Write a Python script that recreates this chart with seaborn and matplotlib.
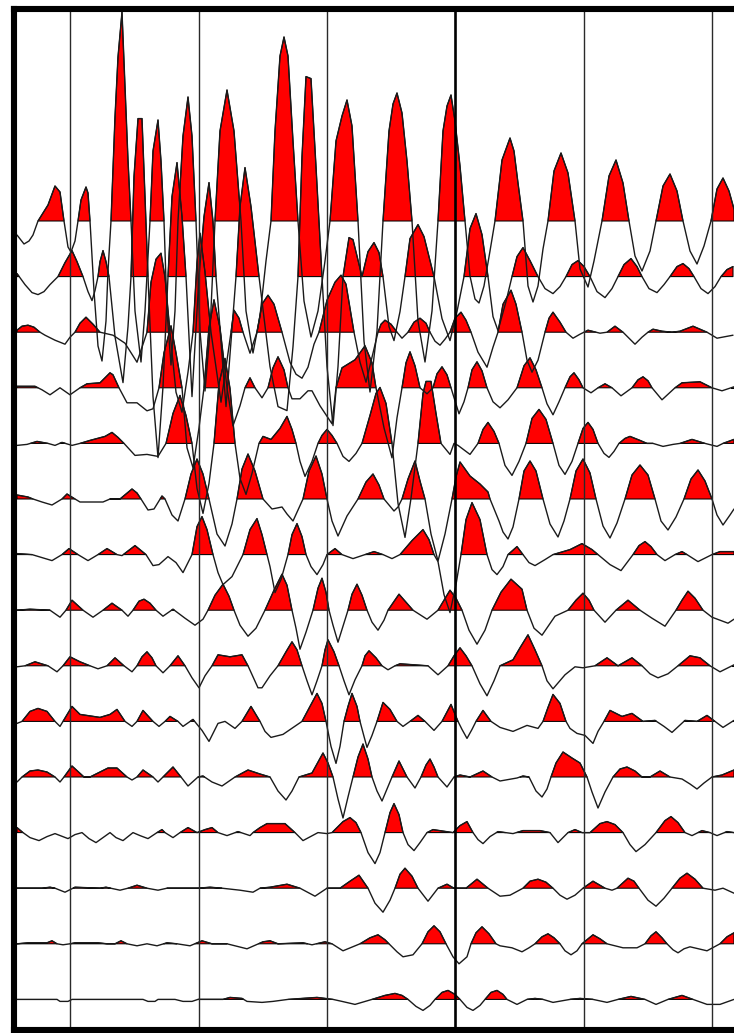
import matplotlib
matplotlib.use("Agg")
import matplotlib.pyplot as plt
import numpy as np
import pandas as pd
import seaborn as sns

# Each trace: (time sample, amplitude) pairs
t01 = [(17,-14),(24,-23),(29,-20),(33,-14),(38,0),(48,16),(55,35),(60,29),(64,0),(68,-26),(71,-31),(75,-20),(78,0),(81,21),(86,34),(88,28),(90,0),(94,-70),(98,-125),(102,-140),(106,-100),(108,-50),(111,0),(115,104),(118,164),(122,209),(125,134),(128,61),(131,0),(135,-90),(141,-141),(145,-90),(150,0),(153,70),(158,101),(161,60),(164,0),(167,-90),(171,-144),(175,-90),(178,0),(183,85),(188,124),(192,85),(196,0),(200,-110),(205,-170),(210,-110),(215,0),(220,90),(227,131),(234,90),(241,0),(246,-90),(253,-132),(260,-95),(266,-40),(271,0),(275,90),(280,165),(284,184),(288,165),(293,80),(298,0),(304,-80),(311,-116),(318,-90),(325,-40),(330,0),(336,80),(342,105),(347,121),(352,95),(358,0),(364,-120),(370,-171),(377,-110),(383,0),(389,90),(393,117),(397,128),(402,108),(407,60),(412,0),(418,-100),(425,-141),(432,-90),(438,0),(443,90),(447,115),(451,126),(455,100),(460,55),(465,0),(470,-55),(475,-78),(479,-82),(484,-65),(490,-30),(495,0),(502,61),(510,83),(514,70),(518,38),(523,0),(528,-65),(533,-81),(538,-65),(543,-28),(548,0),(554,50),(561,68),(568,48),(575,0),(580,-48),(588,-66),(594,-40),(602,0),(609,45),(616,61),(623,38),(629,0),(635,-35),(642,-50),(650,-30),(656,0),(663,35),(670,47),(677,30),(683,0),(690,-30),(697,-43),(704,-25),(711,0),(717,32),(723,43),(729,30),(734,12)]
t02 = [(17,3),(25,-8),(32,-16),(38,-18),(44,-15),(50,-8),(58,0),(65,14),(72,26),(77,15),(83,0),(88,-15),(92,-24),(95,-14),(98,0),(100,15),(103,26),(106,15),(109,0),(115,-60),(123,-106),(128,-50),(131,0),(134,100),(138,158),(142,158),(145,80),(148,0),(153,-120),(158,-181),(163,-110),(168,0),(172,80),(177,114),(182,60),(186,0),(192,-120),(199,0),(204,60),(209,94),(213,55),(216,0),(226,-130),(236,0),(240,70),(245,109),(251,70),(259,0),(270,-90),(278,-130),(287,-134),(293,-70),(298,0),(302,120),(306,200),(311,198),(316,110),(322,0),(327,-90),(333,-149),(338,-90),(343,0),(349,39),(353,37),(362,0),(368,25),(374,34),(379,24),(383,0),(389,-50),(394,-64),(400,-35),(405,0),(410,38),(418,52),(424,40),(434,0),(442,-42),(450,-64),(457,-35),(464,0),(470,48),(476,63),(482,42),(488,0),(493,-40),(498,-54),(506,-25),(512,0),(517,20),(523,29),(530,16),(538,0),(545,-12),(553,-17),(560,-10),(566,0),(572,12),(578,16),(584,10),(590,0),(597,-15),(605,-21),(612,-12),(618,0),(624,12),(631,18),(637,10),(642,0),(649,-12),(657,-16),(664,-8),(670,0),(677,10),(683,13),(689,8),(694,0),(701,-12),(708,-17),(715,-10),(721,0),(727,7),(733,10)]
t03 = [(17,2),(22,6),(28,7),(34,5),(40,0),(45,-3),(55,-8),(65,-12),(70,-5),(75,0),(80,9),(86,15),(93,8),(100,0),(113,-3),(125,-11),(137,-30),(142,-15),(147,0),(151,50),(156,73),(161,79),(165,55),(170,0),(176,-60),(182,-80),(188,-40),(193,0),(197,70),(200,99),(205,60),(211,0),(221,-70),(231,0),(234,22),(239,14),(243,0),(250,-21),(257,0),(262,28),(268,37),(274,28),(282,0),(290,-30),(296,-42),(302,-46),(308,-35),(314,-12),(319,0),(327,32),(335,50),(341,57),(346,48),(354,0),(360,-30),(366,-50),(372,-25),(378,0),(381,8),(385,12),(391,8),(397,0),(402,-6),(407,-1),(408,0),(414,10),(420,14),(426,9),(430,0),(435,-9),(440,-13),(445,-7),(450,0),(455,14),(461,20),(466,12),(471,0),(478,-20),(487,-35),(493,-15),(498,0),(503,28),(511,42),(516,28),(522,0),(527,-28),(532,-40),(538,-28),(545,0),(549,14),(553,20),(560,10),(566,0),(573,-6),(580,-2),(588,2),(600,-1),(607,0),(615,6),(623,0),(635,-12),(642,-5),(648,0),(653,3),(662,1),(672,0),(680,1),(693,6),(707,0),(717,-6),(733,-3)]
t04 = [(17,1.5),(35,1.5),(42,-2),(50,-7),(60,0),(70,-7),(80,0),(87,4),(100,5),(110,15),(113,13),(119,0),(127,-15),(137,-15),(147,-23),(153,-21),(159,0),(164,35),(171,62),(176,35),(182,0),(187,-60),(193,-80),(199,-40),(204,0),(209,60),(214,88),(220,60),(227,0),(233,-38),(240,-18),(245,0),(250,10),(255,0),(262,-10),(268,0),(273,20),(278,31),(284,18),(288,0),(292,-11),(300,-11),(308,-3),(312,-3),(320,-18),(332,-36),(336,0),(342,20),(355,28),(365,42),(372,25),(376,0),(384,-40),(392,-70),(397,-30),(402,0),(406,25),(410,36),(415,22),(420,0),(427,-6),(433,0),(437,14),(442,21),(447,13),(451,0),(459,-26),(464,-14),(468,0),(472,18),(477,26),(482,17),(487,0),(493,-14),(500,-20),(508,-12),(517,0),(524,22),(530,30),(536,18),(542,0),(547,-16),(553,-27),(559,-14),(565,0),(570,11),(574,15),(579,8),(583,0),(591,-5),(598,0),(605,4),(612,0),(621,-8),(632,0),(638,8),(643,11),(648,7),(652,0),(662,-12),(675,0),(682,5),(700,6),(712,0),(722,-3),(734,1)]
t05 = [(17,-2),(27,-1),(37,2),(48,0),(55,-2),(62,1),(72,-2),(80,0),(90,3),(105,7),(112,11),(118,6),(124,0),(135,-12),(147,-11),(158,-13),(166,0),(173,30),(180,48),(186,28),(192,0),(197,-45),(203,-70),(209,-40),(214,0),(219,60),(225,85),(230,55),(235,0),(240,-35),(246,-51),(252,-30),(259,0),(263,7),(271,4),(280,15),(287,27),(292,14),(296,0),(300,-18),(305,-33),(312,-18),(318,0),(322,8),(327,14),(332,8),(337,0),(343,-13),(349,-18),(356,-10),(362,0),(370,28),(376,50),(380,56),(386,40),(392,0),(398,-60),(405,-94),(411,-55),(418,0),(423,50),(426,62),(431,62),(436,30),(441,0),(450,-11),(454,0),(458,-2),(470,-11),(478,0),(483,14),(488,21),(494,12),(499,0),(505,-22),(512,-32),(519,-18),(526,0),(532,25),(539,34),(546,24),(553,0),(559,-22),(565,-31),(572,-18),(578,0),(583,15),(588,21),(593,14),(598,0),(604,-10),(609,-14),(614,-8),(619,0),(625,5),(630,7),(640,3),(647,0),(653,0),(663,-3),(673,-1),(680,0),(692,4),(705,0),(717,-3),(723,0),(734,4)]
t06 = [(17,4),(28,2),(33,0),(42,-3),(52,-6),(62,0),(67,5),(75,0),(80,-3),(103,-3),(110,0),(120,0),(126,5),(132,10),(137,6),(141,0),(148,-11),(154,-10),(162,3),(165,0),(172,-16),(178,-22),(185,0),(191,25),(197,40),(203,25),(209,0),(217,-35),(225,-47),(232,-25),(237,0),(242,30),(248,45),(255,28),(263,0),(272,-10),(282,-8),(287,-15),(293,-22),(303,0),(309,28),(316,43),(322,25),(327,0),(332,-22),(338,-37),(347,-17),(358,0),(366,17),(373,25),(379,14),(384,0),(394,-12),(398,-8),(402,0),(408,20),(415,38),(420,18),(425,0),(431,-35),(438,-62),(445,-35),(452,0),(456,22),(460,37),(470,23),(480,15),(488,7),(490,0),(499,-22),(503,-33),(508,-40),(513,-28),(519,0),(524,28),(530,38),(536,28),(543,0),(550,-25),(558,-38),(564,-22),(570,0),(576,28),(583,40),(590,26),(596,0),(603,-27),(610,-39),(617,-24),(625,0),(632,24),(640,34),(648,24),(655,0),(661,-22),(668,-31),(676,-18),(684,0),(691,20),(698,29),(705,18),(712,0),(717,-16),(723,-26),(730,-16),(734,-10)]
t07 = [(17,1),(32,0),(42,-3),(52,-6),(62,0),(69,6),(78,0),(88,-6),(98,0),(107,6),(117,0),(122,-1),(135,9),(146,0),(153,-11),(159,-10),(168,-2),(176,-8),(183,-18),(187,-10),(192,0),(197,28),(202,38),(207,25),(213,0),(218,-18),(223,-30),(232,-22),(243,0),(250,25),(257,36),(262,20),(267,0),(270,-12),(275,-38),(281,-25),(288,0),(292,20),(297,31),(302,18),(306,0),(311,-12),(317,-20),(323,-10),(327,0),(335,6),(342,0),(353,-4),(365,0),(374,3),(383,0),(392,-4),(400,0),(412,14),(423,25),(429,15),(434,0),(438,-7),(444,-40),(450,-58),(456,-30),(461,0),(466,35),(472,52),(480,35),(487,0),(492,-15),(497,-20),(503,-12),(508,0),(517,8),(523,0),(529,-8),(535,-11),(545,-5),(553,0),(570,5),(582,11),(592,5),(598,0),(610,-10),(621,-16),(633,0),(639,9),(645,13),(651,8),(657,0),(665,-6),(675,0),(682,3),(687,0),(698,-7),(712,0),(720,3),(734,3)]
t08 = [(17,0),(30,1),(50,0),(60,-7),(66,0),(72,10),(83,0),(93,-7),(103,0),(112,7),(122,0),(128,-6),(133,0),(139,9),(144,11),(150,7),(156,0),(163,-6),(173,1),(185,-8),(195,-15),(203,-9),(208,0),(215,15),(223,26),(229,14),(234,0),(240,-15),(248,-26),(256,-18),(265,0),(274,20),(282,36),(287,25),(292,0),(296,-18),(300,-39),(306,-22),(313,0),(318,22),(322,32),(326,18),(329,0),(333,-15),(338,-32),(343,-16),(348,0),(352,16),(357,26),(362,15),(367,0),(372,-12),(378,-20),(384,-10),(388,0),(399,16),(406,8),(413,0),(427,-9),(438,0),(450,20),(456,12),(462,0),(469,-20),(477,-34),(485,-20),(492,0),(501,18),(511,31),(522,21),(527,0),(534,-18),(542,-25),(555,-6),(568,0),(576,10),(583,17),(589,10),(594,0),(605,-12),(616,0),(628,10),(640,0),(652,-8),(665,-16),(676,0),(682,10),(688,19),(695,12),(703,0),(712,-7),(728,-13),(734,-9)]
t09 = [(17,-1),(25,0),(35,4),(48,0),(57,-6),(63,0),(70,9),(80,4),(90,0),(98,-3),(107,0),(115,8),(124,0),(132,-6),(137,0),(142,9),(147,14),(152,8),(156,0),(163,-7),(170,0),(178,10),(185,0),(192,-12),(199,-22),(205,-10),(212,0),(218,11),(230,9),(242,11),(248,0),(258,-22),(262,-22),(270,-10),(278,0),(286,14),(292,24),(297,16),(302,0),(307,-15),(312,-29),(317,-15),(322,0),(325,16),(328,26),(334,14),(339,0),(344,-15),(349,-29),(355,-14),(362,0),(365,10),(369,15),(376,8),(382,0),(388,-4),(395,0),(400,2),(428,0),(438,-9),(448,0),(454,10),(460,18),(466,10),(472,0),(480,-18),(487,-30),(494,-15),(500,0),(513,6),(520,18),(528,31),(535,16),(542,0),(547,-15),(553,-23),(565,-9),(575,-1),(583,-2),(595,0),(607,8),(618,0),(632,8),(642,0),(650,-8),(658,-12),(668,-8),(678,0),(690,10),(700,8),(710,0),(720,-6),(734,1)]
t10 = [(17,-2),(22,0),(30,10),(38,13),(47,10),(55,0),(60,-5),(63,0),(72,15),(80,7),(100,4),(110,7),(117,12),(125,0),(132,-5),(137,0),(143,11),(153,0),(159,-5),(165,0),(170,5),(178,0),(183,-5),(193,2),(202,-9),(209,-20),(218,-2),(225,0),(235,-7),(242,0),(251,15),(260,0),(265,-10),(271,-16),(283,-13),(302,0),(310,15),(317,28),(322,18),(326,0),(331,-25),(336,-42),(340,-25),(344,0),(348,15),(352,28),(357,15),(360,0),(364,-15),(367,-26),(372,-14),(377,0),(383,19),(390,12),(397,0),(403,-5),(410,0),(418,6),(425,0),(434,-9),(442,0),(451,17),(458,0),(462,-8),(467,-17),(472,-8),(476,0),(483,11),(491,0),(500,-6),(513,-10),(527,-4),(538,-7),(543,0),(548,14),(553,27),(560,18),(566,0),(570,-7),(577,-12),(585,-14),(593,-22),(598,-10),(604,0),(610,11),(622,5),(632,8),(643,0),(655,1),(664,-5),(672,-11),(685,1),(697,0),(707,6),(715,0),(723,-6),(734,1)]
t11 = [(17,-5),(22,0),(30,6),(38,7),(47,5),(55,0),(60,-5),(64,0),(72,11),(84,0),(90,0),(108,9),(117,9),(127,0),(132,-3),(137,0),(143,7),(153,0),(158,-5),(163,0),(173,10),(181,0),(188,-9),(198,0),(203,1),(212,-5),(222,-9),(235,0),(248,7),(260,3),(270,0),(278,-14),(286,-23),(292,-14),(299,0),(312,4),(323,24),(328,14),(333,0),(338,-22),(343,-41),(348,-20),(353,0),(358,20),(363,33),(368,18),(372,0),(377,-14),(382,-24),(387,-12),(392,0),(399,16),(407,0),(415,-11),(421,0),(426,12),(430,18),(434,10),(438,0),(447,-10),(454,0),(460,2),(470,0),(483,6),(492,0),(500,-4),(517,-1),(523,1),(529,0),(536,-14),(542,-20),(547,-12),(551,0),(556,14),(563,25),(572,19),(580,14),(587,0),(592,-15),(598,-31),(605,-15),(613,0),(620,8),(627,10),(635,6),(642,0),(650,0),(660,6),(670,0),(682,-2),(690,-7),(697,-12),(704,-6),(712,0),(722,2),(734,7)]
t12 = [(17,5),(23,0),(30,-5),(39,-8),(47,-4),(55,-1),(68,-6),(75,-2),(82,0),(89,-6),(96,-10),(103,-5),(110,0),(116,-5),(123,-8),(128,-4),(133,0),(140,-3),(148,-6),(157,0),(162,3),(165,0),(173,-5),(180,0),(188,5),(197,0),(205,3),(212,5),(218,0),(227,-3),(238,1),(250,-3),(253,0),(260,5),(267,9),(285,9),(295,0),(303,-8),(318,0),(327,-1),(332,0),(343,11),(350,15),(356,10),(361,0),(368,-20),(375,-31),(380,-20),(385,0),(390,20),(394,29),(399,18),(403,0),(408,-12),(414,-18),(420,-10),(427,0),(433,3),(453,0),(460,7),(467,11),(473,0),(478,-7),(483,-11),(490,-4),(498,1),(513,-1),(523,2),(540,2),(550,0),(558,-10),(568,0),(575,3),(582,0),(590,0),(600,9),(607,11),(615,8),(623,0),(630,-12),(636,-19),(645,-12),(656,0),(665,12),(671,16),(678,10),(685,0),(692,-3),(702,2),(710,0),(717,-3),(727,1),(734,0)]
t13 = [(17,0),(42,0),(50,1),(55,0),(65,-4),(75,1),(100,0),(106,1),(120,-2),(128,0),(137,3),(147,0),(158,-2),(167,0),(198,0),(210,1),(222,0),(240,-2),(253,-4),(260,0),(270,1),(287,4),(300,0),(315,-8),(327,0),(340,0),(350,7),(359,13),(368,0),(375,-15),(383,-24),(390,-12),(395,0),(400,14),(405,20),(412,12),(418,0),(428,-13),(438,0),(447,4),(454,0),(466,0),(477,9),(488,0),(500,-8),(510,-7),(523,0),(530,7),(538,9),(546,6),(553,0),(560,-7),(567,-11),(575,-7),(583,0),(593,7),(605,0),(612,-2),(617,0),(628,10),(634,7),(639,0),(648,-12),(656,-18),(664,-10),(672,0),(680,10),(687,15),(695,9),(703,0),(715,-2),(723,0),(734,-5)]
t14 = [(17,0),(28,1),(47,1),(52,3),(57,0),(63,-1),(70,0),(75,1),(98,1),(107,0),(115,0),(121,3),(127,0),(137,-2),(147,0),(157,-2),(167,1),(177,0),(190,-2),(202,3),(212,0),(227,0),(247,-5),(263,2),(270,3),(278,0),(303,1),(312,-1),(325,2),(332,0),(343,-7),(360,0),(370,6),(378,9),(385,4),(389,0),(397,-8),(403,-13),(413,-11),(422,0),(428,12),(434,18),(440,12),(446,0),(453,-13),(459,-20),(467,-13),(471,0),(476,11),(482,17),(489,10),(496,0),(500,-2),(512,-4),(522,-8),(529,-4),(535,0),(542,7),(548,10),(554,6),(560,0),(565,-7),(571,-11),(577,-7),(582,0),(593,9),(600,5),(607,0),(623,-4),(637,-4),(645,0),(651,8),(656,12),(662,6),(667,0),(673,-6),(678,-9),(684,-5),(690,-3),(707,-7),(720,0),(727,7),(734,11)]
t15 = [(17,0),(57,0),(60,-2),(68,-2),(72,0),(143,0),(148,-2),(155,-2),(158,0),(175,0),(183,-2),(192,-2),(198,0),(223,0),(230,2),(242,1),(247,-2),(262,-3),(273,-2),(288,0),(317,2),(333,0),(342,-2),(355,-5),(372,0),(385,4),(395,6),(402,4),(408,0),(416,-7),(423,-11),(430,-6),(435,0),(442,7),(448,9),(455,5),(460,0),(467,-8),(473,-11),(480,-6),(485,0),(491,7),(497,9),(503,5),(507,0),(517,-5),(527,0),(535,1),(543,0),(553,-3),(570,0),(580,1),(593,0),(607,-3),(618,0),(631,3),(645,0),(656,-5),(668,0),(682,4),(693,0),(707,-5),(720,-5),(734,0)]
traces = [t01, t02, t03, t04, t05, t06, t07, t08, t09, t10, t11, t12, t13, t14, t15]
grid_times = [70, 198.5, 327, 584, 712]
heavy_time = 455
trace_gap = 55.6     # amplitude units per trace spacing
RED = "#ff0000"

W, H = 734, 1033
sns.set_theme(style="white")
fig = plt.figure(figsize=(W / 100, H / 100), dpi=100, facecolor="white")
left, top, bottom = 13.7, 8.5, 1030.0
ax = fig.add_axes([left / W, 1 - bottom / H, 1 - left / W, (bottom - top) / H])

for i, tr in enumerate(traces):
    df = pd.DataFrame(tr, columns=["time", "amp"])
    df["level"] = i - df["amp"] / trace_gap
    ax.fill_between(df["time"], i, df["level"], where=df["amp"] >= 0, interpolate=True,
                    facecolor=RED, edgecolor="black", linewidth=0.75, zorder=2 + i * 0.01)
    sns.lineplot(data=df, x="time", y="level", estimator=None, sort=False, color="#1a1a1a",
                 linewidth=1.0, ax=ax, zorder=3 + i * 0.01, legend=False)

for t in grid_times:
    ax.axvline(t, color="#2a2a2a", linewidth=1.0, zorder=4)
ax.axvline(heavy_time, color="black", linewidth=1.9, zorder=4)

ax.set_xlim(left, W)
ax.set_ylim((bottom - 221) / trace_gap, (top - 221) / trace_gap)
ax.set_xticks([]); ax.set_yticks([])
ax.set_xlabel(""); ax.set_ylabel("")
for side in ["left", "top", "bottom"]:
    ax.spines[side].set_visible(True)
    ax.spines[side].set_color("black")
    ax.spines[side].set_linewidth(4.4)
    ax.spines[side].set_zorder(10)
ax.spines["right"].set_visible(False)
fig.savefig("out.png", dpi=100, facecolor="white")
